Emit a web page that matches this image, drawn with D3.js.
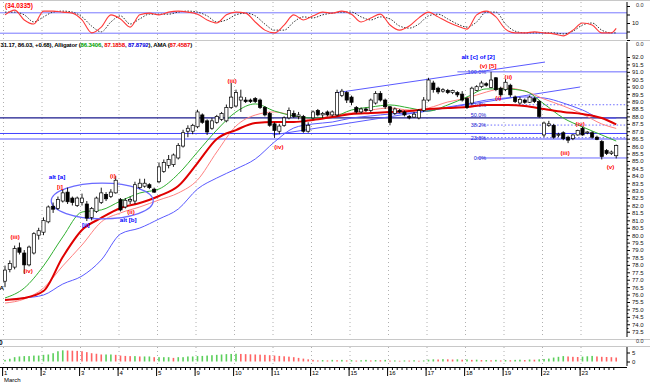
<!DOCTYPE html>
<html>
<head>
<meta charset="utf-8">
<script src="https://cdn.jsdelivr.net/npm/d3@7"></script>
<style>
  body { margin: 0; background: #fff; }
  svg { display: block; font-family: "Liberation Sans", Arial, sans-serif; }
</style>
</head>
<body>
<svg id="chart" width="650" height="382"></svg>
<script>
// Day labels under the x axis (8 hourly bars a day).
const days = ['1', '2', '3', '4', '5', '9', '10', '11', '12', '15', '16', '17', '18', '19', '22', '23']
const barsPerDay = 8

// Hourly candles [open, high, low, close].
const candles = [
	[76.9, 77.95, 76.5, 77.65], [77.7, 78.3, 77.5, 78.1], [77.85, 79.3, 77.7, 79.1], [79.15, 79.5, 78.7, 78.85],
	[78.8, 79.0, 77.4, 78.0], [78.0, 79.3, 77.9, 79.2], [78.8, 80.2, 78.7, 80.1], [80.0, 80.5, 79.7, 80.3],
	[80.2, 81.2, 80.0, 81.0], [80.9, 82.0, 80.8, 81.9], [81.95, 82.2, 81.5, 81.75], [81.8, 82.6, 81.7, 82.4],
	[82.3, 83.1, 82.2, 82.85], [82.9, 83.2, 82.1, 82.25], [82.5, 82.6, 82.0, 82.2], [82.0, 82.6, 81.9, 82.5],
	[82.2, 82.8, 82.0, 82.5], [82.1, 82.3, 80.95, 81.15], [81.2, 81.9, 81.0, 81.8], [81.6, 82.6, 81.5, 82.5],
	[82.2, 83.2, 82.1, 82.85], [82.75, 82.9, 82.3, 82.45], [82.6, 83.1, 82.5, 82.9], [82.85, 84.0, 82.8, 83.7],
	[82.4, 82.5, 81.6, 81.7], [81.9, 82.5, 81.8, 82.35], [82.3, 82.6, 82.1, 82.4], [82.3, 83.6, 82.1, 83.4],
	[83.2, 83.8, 83.1, 83.5], [83.3, 83.8, 83.2, 83.5], [83.4, 83.5, 83.1, 83.2], [83.1, 83.2, 82.85, 82.9],
	[83.6, 84.9, 83.5, 84.6], [84.3, 85.1, 84.2, 84.9], [84.7, 85.4, 84.5, 85.1], [84.75, 85.5, 84.6, 85.4],
	[85.2, 86.2, 85.1, 86.05], [86.0, 87.1, 85.9, 86.9], [87.0, 87.4, 86.6, 87.2], [87.0, 87.5, 86.8, 87.4],
	[87.3, 88.45, 87.2, 88.3], [88.1, 88.2, 87.5, 87.6], [87.7, 87.8, 86.75, 86.95], [87.2, 87.9, 87.1, 87.7],
	[87.6, 88.1, 87.5, 88.0], [87.8, 88.3, 87.7, 88.2], [87.7, 88.8, 87.6, 88.6], [88.6, 90.25, 88.5, 89.3],
	[88.7, 89.8, 88.6, 89.6], [89.1, 89.8, 88.3, 89.3], [89.1, 89.3, 88.9, 89.0], [89.1, 89.2, 88.9, 89.0],
	[89.2, 89.3, 88.9, 89.0], [89.1, 89.2, 88.5, 88.6], [88.6, 88.7, 88.0, 88.1], [88.2, 88.3, 87.3, 87.4],
	[87.5, 87.6, 86.55, 87.05], [87.0, 87.5, 86.8, 87.35], [87.4, 88.0, 87.3, 87.9], [87.9, 88.6, 87.8, 88.4],
	[88.2, 88.4, 87.9, 88.0], [88.0, 88.3, 87.8, 88.1], [88.0, 88.1, 86.9, 87.0], [87.0, 87.6, 86.9, 87.4],
	[87.9, 88.4, 87.8, 88.3], [88.4, 88.5, 88.0, 88.1], [88.1, 88.3, 87.9, 88.2], [88.3, 88.4, 88.0, 88.1],
	[88.1, 88.4, 88.0, 88.3], [88.1, 89.8, 88.0, 89.6], [89.4, 89.85, 89.3, 89.7], [89.6, 89.7, 88.9, 89.1],
	[89.3, 89.4, 88.75, 88.95], [88.6, 88.7, 88.2, 88.3], [88.3, 88.6, 88.2, 88.5], [88.5, 88.6, 88.3, 88.4],
	[88.4, 89.2, 88.3, 89.1], [88.9, 89.7, 88.8, 89.55], [89.55, 89.7, 89.0, 89.1], [89.1, 89.2, 88.5, 88.65],
	[88.65, 88.7, 87.4, 87.6], [88.2, 88.6, 88.1, 88.5], [88.4, 88.5, 88.2, 88.3], [88.3, 88.4, 88.0, 88.1],
	[88.0, 88.1, 87.8, 87.9], [87.95, 88.3, 87.9, 88.15], [87.9, 88.5, 87.8, 88.4], [88.4, 89.3, 88.3, 89.1],
	[89.1, 90.6, 89.0, 90.45], [90.25, 90.4, 89.6, 89.8], [89.9, 90.0, 89.5, 89.65], [89.7, 89.9, 89.6, 89.8],
	[89.75, 89.85, 89.5, 89.6], [89.6, 89.8, 89.5, 89.75], [89.6, 89.7, 89.3, 89.45], [89.5, 89.7, 89.0, 89.1],
	[89.2, 89.3, 88.5, 88.6], [88.9, 90.0, 88.8, 89.9], [89.75, 90.1, 89.7, 90.0], [90.0, 90.4, 89.9, 90.25],
	[90.2, 90.3, 90.0, 90.1], [89.95, 91.0, 89.9, 90.45], [90.6, 90.65, 89.7, 89.8], [89.9, 90.0, 89.3, 89.45],
	[89.8, 90.5, 89.7, 90.3], [90.1, 90.2, 89.3, 89.45], [89.3, 89.4, 88.9, 89.0], [88.9, 89.3, 88.8, 89.15],
	[89.1, 89.2, 88.85, 88.95], [88.95, 89.4, 88.9, 89.3], [89.2, 89.3, 88.9, 89.0], [89.0, 89.1, 87.9, 88.0],
	[86.75, 87.65, 86.6, 87.55], [87.4, 87.7, 87.3, 87.5], [87.4, 87.5, 86.5, 86.6], [86.75, 86.9, 86.6, 86.8],
	[86.9, 87.0, 86.4, 86.5], [86.6, 86.7, 86.2, 86.4], [86.5, 86.8, 86.4, 86.75], [86.75, 87.1, 86.7, 87.05],
	[87.2, 87.3, 86.7, 86.75], [86.9, 87.0, 86.8, 86.95], [86.9, 87.0, 86.5, 86.6], [86.6, 86.7, 86.4, 86.45],
	[86.3, 86.4, 85.1, 85.3], [85.7, 85.8, 85.4, 85.5], [85.5, 85.7, 85.4, 85.6], [85.35, 86.1, 85.17, 86.03],
]

// Alligator + AMA, sampled every 4 bars.
const lineIdx = [0, 4, 8, 12, 16, 20, 24, 28, 32, 36, 40, 44, 48, 52, 56, 60, 64, 68, 72, 76, 80, 84, 88, 92, 96, 100, 104, 108, 112, 116, 120, 124, 127]
const lips = [75.77, 76.44, 77.93, 79.88, 81.56, 81.7, 82.3, 82.84, 83.11, 84.12, 85.6, 87.08, 88.3, 88.84, 88.36, 88.03, 87.89, 87.96, 88.43, 88.63, 88.77, 88.57, 88.36, 88.77, 89.31, 89.85, 89.85, 89.71, 88.84, 87.89, 87.29, 86.75, 86.34]
const teeth = [75.43, 75.7, 76.44, 77.93, 79.34, 80.89, 81.5, 81.9, 82.37, 82.84, 83.72, 85.6, 87.35, 88.09, 88.3, 88.03, 87.76, 88.09, 88.23, 88.43, 88.57, 88.43, 88.57, 88.97, 89.24, 89.64, 89.91, 89.71, 89.17, 88.7, 88.16, 87.49, 87.19]
const jaw = [75.64, 75.77, 75.97, 76.71, 77.25, 78.33, 80.08, 80.48, 81.09, 81.76, 83.11, 83.85, 84.46, 85.13, 86.28, 87.22, 87.49, 87.62, 87.89, 88.03, 88.16, 88.23, 88.36, 88.63, 88.84, 89.1, 89.24, 89.31, 89.24, 88.9, 88.43, 87.89, 87.88]
const ama = [75.64, 75.77, 76.24, 78.53, 80.35, 81.16, 81.83, 82.17, 82.64, 83.31, 84.86, 86.48, 87.08, 87.56, 87.62, 87.62, 87.76, 87.96, 88.16, 88.23, 88.3, 88.36, 88.5, 88.57, 88.63, 88.77, 88.77, 88.7, 88.5, 88.3, 88.16, 87.89, 87.46]

// Oscillator (top pane), sampled every 2 bars.
const oscIdx = [0, 2, 4, 6, 8, 10, 12, 14, 16, 18, 20, 22, 24, 26, 28, 30, 32, 34, 36, 38, 40, 42, 44, 46, 48, 50, 52, 54, 56, 58, 60, 62, 64, 66, 68, 70, 72, 74, 76, 78, 80, 82, 84, 86, 88, 90, 92, 94, 96, 98, 100, 102, 104, 106, 108, 110, 112, 114, 116, 118, 120, 122, 124, 126, 127]
const oscK = [74, 88, 59, 47, 85, 85, 82, 79, 59, 21, 38, 74, 62, 38, 74, 79, 74, 82, 85, 82, 76, 59, 50, 74, 82, 79, 53, 29, 21, 44, 74, 59, 71, 82, 79, 85, 76, 53, 65, 76, 44, 29, 41, 65, 82, 68, 53, 41, 32, 74, 85, 68, 32, 21, 21, 24, 21, 18, 12, 29, 50, 44, 21, 21, 34]
const oscD = [82, 82, 74, 53, 68, 82, 85, 82, 68, 41, 24, 53, 71, 47, 62, 76, 76, 76, 82, 85, 82, 71, 53, 59, 74, 79, 71, 47, 29, 29, 53, 68, 65, 74, 79, 82, 82, 68, 59, 68, 62, 41, 35, 47, 71, 76, 62, 47, 38, 53, 82, 82, 47, 26, 21, 21, 21, 21, 18, 26, 44, 50, 29, 21, 21]

// Bottom pane histogram.
const hist = [
	0.9, 1.5, 2.4, 2.8, 3.0, 3.0, 3.3, 3.3, 3.7, 3.9, 4.6, 5.7, 6.2, 6.1, 6.0, 5.9, 5.7, 5.2, 4.6, 4.3,
	3.9, 3.9, 3.9, 3.7, 3.3, 3.1, 3.0, 3.0, 2.8, 2.8, 2.8, 2.4, 2.4, 2.4, 2.4, 2.0, 2.4, 2.4, 2.8, 2.8,
	3.0, 3.1, 3.3, 3.5, 3.7, 3.9, 4.1, 4.2, 4.3, 4.2, 4.1, 4.0, 3.9, 3.8, 3.7, 3.5, 3.3, 3.1, 2.9, 2.7,
	2.4, 2.0, 1.6, 1.2, 0.9, 0.6, 0.8, 0.6, 0.9, 0.7, 0.9, 0.6, 0.8, 0.5, 0.7, 0.9, 0.6, 0.8, 0.7, 0.9,
	0.5, 0.6, 0.4, 0.6, 0.5, 0.7, 0.4, 0.6, 1.0, 1.2, 1.1, 1.3, 1.2, 1.1, 1.2, 1.0, 1.1, 0.9, 1.0, 0.8,
	0.8, 0.7, 0.9, 0.6, 0.8, 0.7, 0.9, 1.0, 0.8, 1.1, 1.0, 1.2, 1.4, 1.6, 2.2, 2.6, 3.0, 2.8, 2.6, 2.5,
	2.7, 2.9, 3.1, 2.8, 2.6, 2.5, 2.4, 2.2,
]

// Horizontal levels across the whole pane.
const levels = [[87.9, '#1a1a8c', 1.4], [86.85, '#4040ff', 1], [86.48, '#a8a8ff', 2]]
// Fibonacci retracement of the last swing.
const fibHigh = 91.0, fibLow = 85.2
const fibRatios = [1, 0.618, 0.5, 0.382, 0.236, 0]
const fibNames = ['100.0%', '61.8%', '50.0%', '38.2%', '23.6%', '0.0%']
// Channel lines [[bar, price], [bar, price]].
const channels = [[[68.6, 89.58], [112.2, 91.66]], [[55.7, 86.75], [119.5, 89.98]]]
// Wave count labels [text, bar, price, colour].
const waves = [
	['(iii)', 2.1, 79.9, 'red'], ['(iv)', 4.8, 77.6, 'red'], ['A', -0.7, 76.5, '#000'],
	['alt [a]', 10.8, 83.95, 'blue'], ['[i]', 11.4, 83.3, 'red'], ['[ii]', 16.8, 80.7, 'blue'],
	['(i)', 22.4, 84.05, 'red'], ['(ii)', 26.2, 81.6, 'red'], ['alt [b]', 25.6, 81.05, 'blue'],
	['(iii)', 47.2, 90.45, 'red'], ['(iv)', 56.9, 86.0, 'red'], ['alt [c] of [2]', 98.3, 92.05, 'blue'],
	['(v) [5]', 100.4, 91.4, 'red'], ['(ii)', 104.6, 90.7, 'red'], ['(i)', 102.5, 89.3, 'red'],
	['(iii)', 116.4, 85.6, 'red'], ['(iv)', 119.5, 87.55, 'red'], ['(v)', 125.8, 84.65, 'red'],
]

const svg = d3.select('#chart')
const axisX = 627

const x = d3.scaleLinear().domain([0, candles.length - 1]).range([5, 616.2])
const yM = d3.scaleLinear().domain([73.5, 92]).range([331.7, 57])
const yO = d3.scaleLinear().domain([0, 100]).range([40, 6])
const yH = d3.scaleLinear().domain([0, 5]).range([361.5, 352.5])
const dayStarts = days.map((d, i) => i * barsPerDay)

svg.append('rect').attr('width', 650).attr('height', 382).attr('fill', '#fff')

// pane separators
;[0.5, 40.5, 339.5, 346.5].forEach(y => {
	svg.append('line').attr('x1', 0).attr('x2', 650).attr('y1', y).attr('y2', y)
		.attr('stroke', '#c8c8c8')
})

// day grid
const grid = svg.append('g').attr('stroke', '#b0b0b0').attr('stroke-dasharray', '1,3')
;[[2, 39], [42, 336], [347, 366]].forEach(([a, b]) => {
	grid.selectAll(null).data(dayStarts).join('line')
		.attr('x1', d => x(d) - 1.5).attr('x2', d => x(d) - 1.5)
		.attr('y1', a).attr('y2', b)
})

// ---- oscillator pane ----
const osc = svg.append('g')
;[80, 20].forEach(v => {
	osc.append('line').attr('x1', 0).attr('x2', axisX).attr('y1', yO(v)).attr('y2', yO(v))
		.attr('stroke', '#7878ff')
})
const oLine = d3.line().x(d => x(d[0])).y(d => yO(d[1])).curve(d3.curveMonotoneX)
osc.append('path').attr('d', oLine(d3.zip(oscIdx, oscD)))
	.attr('fill', 'none').attr('stroke', '#333').attr('stroke-dasharray', '1.5,1.5')
osc.append('path').attr('d', oLine(d3.zip(oscIdx, oscK)))
	.attr('fill', 'none').attr('stroke', '#ff3a3a').attr('stroke-width', 1.1)
osc.append('text').attr('x', 5).attr('y', 8).attr('fill', 'red')
	.attr('font-size', 6.5).attr('font-weight', 'bold').text('(34.0335)')
osc.append('g').attr('transform', `translate(${axisX},0)`)
	.call(d3.axisRight(yO).tickValues([0, 25, 50, 75, 100]).tickSize(3).tickFormat(d => d === 50 ? '10' : ''))
	.call(g => g.select('.domain').attr('d', 'M0,2V39'))

// ---- main pane ----
const main = svg.append('g')
main.append('text').attr('x', 0.5).attr('y', 47).attr('font-size', 6).attr('font-weight', 'bold')
	.attr('letter-spacing', -0.15)
	.call(t => {
		[['31.17, 86.03, +0.68), Alligator (', '#000'], ['86.3406', '#00a000'], [', ', '#000'],
			['87.1858', '#f00000'], [', ', '#000'], ['87.8792', '#0000e0'], ['), AMA (', '#000'],
			['87.4587', '#f00000'], [')', '#000']]
			.forEach(([s, c]) => t.append('tspan').attr('fill', c).text(s))
	})

levels.forEach(([p, c, w]) => {
	main.append('line').attr('x1', 0).attr('x2', axisX).attr('y1', yM(p)).attr('y2', yM(p))
		.attr('stroke', c).attr('stroke-width', w)
})

const fib = main.append('g')
fibRatios.forEach((r, k) => {
	const p = fibLow + (fibHigh - fibLow) * r
	const dotted = r !== 1 && r !== 0 && r !== 0.5
	fib.append('line').attr('x1', x(r === 1 ? 94 : 98)).attr('x2', axisX)
		.attr('y1', yM(p)).attr('y2', yM(p))
		.attr('stroke', r === 0.5 ? 'none' : '#6a6aff').attr('stroke-width', 1)
		.attr('stroke-dasharray', dotted ? '1.5,2' : null)
	fib.append('text').attr('x', x(100)).attr('y', yM(p) + 2).attr('text-anchor', 'end')
		.attr('font-size', 5.5).attr('fill', '#2020d0').text(fibNames[k])
})

channels.forEach(c => {
	main.append('line').attr('x1', x(c[0][0])).attr('y1', yM(c[0][1]))
		.attr('x2', x(c[1][0])).attr('y2', yM(c[1][1]))
		.attr('stroke', '#5a5aff').attr('stroke-width', 1)
})

const mLine = d3.line().x(d => x(d[0])).y(d => yM(d[1])).curve(d3.curveMonotoneX)
;[[jaw, '#5a5aff', 1], [teeth, '#ff8080', 1], [lips, '#30b030', 1], [ama, '#e00000', 2]].forEach(([s, c, w]) => {
	main.append('path').attr('d', mLine(d3.zip(lineIdx, s)))
		.attr('fill', 'none').attr('stroke', c).attr('stroke-width', w)
})

// ellipse around the [a]-[b] area
main.append('ellipse').attr('cx', x(20.2)).attr('cy', yM(82.3))
	.attr('rx', x(10.6) - x(0)).attr('ry', yM(81.1) - yM(82.3))
	.attr('fill', 'none').attr('stroke', '#6a6aff').attr('stroke-width', 1.2)

const cg = main.append('g')
cg.selectAll('line').data(candles).join('line')
	.attr('x1', (d, i) => x(i)).attr('x2', (d, i) => x(i))
	.attr('y1', d => yM(d[1])).attr('y2', d => yM(d[2]))
	.attr('stroke', '#000').attr('stroke-width', 0.9)
cg.selectAll('rect').data(candles).join('rect')
	.attr('x', (d, i) => x(i) - 1.6).attr('width', 3.2)
	.attr('y', d => yM(Math.max(d[0], d[3])))
	.attr('height', d => Math.max(1, Math.abs(yM(d[0]) - yM(d[3]))))
	.attr('fill', d => d[3] >= d[0] ? '#fff' : '#000')
	.attr('stroke', '#000').attr('stroke-width', 0.7)

main.selectAll('text.wave').data(waves).join('text').attr('class', 'wave')
	.attr('x', d => x(d[1])).attr('y', d => yM(d[2]) + 2.5)
	.attr('text-anchor', 'middle').attr('font-size', 6.2).attr('font-weight', 'bold')
	.attr('fill', d => d[3]).text(d => d[0])

main.append('g').attr('transform', `translate(${axisX},0)`)
	.call(d3.axisRight(yM).tickValues(d3.range(73.5, 92.01, 0.5)).tickSize(3).tickFormat(d3.format('.1f')))
	.call(g => g.select('.domain').attr('d', 'M0,42V337'))
main.append('g').attr('transform', `translate(${axisX},0)`)
	.call(d3.axisRight(yM).tickValues(d3.range(73.75, 92, 0.5)).tickSize(1.5).tickFormat(''))
	.call(g => g.select('.domain').remove())

// ---- histogram pane ----
const hg = svg.append('g')
hg.selectAll('rect').data(hist).join('rect')
	.attr('x', (d, i) => x(i) - 0.8).attr('width', 1.6)
	.attr('y', d => yH(d)).attr('height', d => yH(0) - yH(d))
	.attr('fill', (d, i) => i === 0 || d >= hist[i - 1] ? '#5ccf5c' : '#ff6464')
hg.append('text').attr('x', -1).attr('y', 345).attr('font-size', 6.5).attr('font-weight', 'bold').text('0')
hg.append('g').attr('transform', `translate(${axisX},0)`)
	.call(d3.axisRight(yH).tickValues([0, 5]).tickSize(3).tickFormat(d3.format('d')))
	.call(g => g.select('.domain').attr('d', 'M0,347V366'))
;[7, 46, 343].forEach(y => {
	svg.append('text').attr('x', 636).attr('y', y).attr('font-size', 5.5).attr('fill', '#333').text('0.0')
})

// ---- time axis ----
const xa = svg.append('g')
xa.append('line').attr('x1', 0).attr('x2', axisX).attr('y1', 367.5).attr('y2', 367.5).attr('stroke', '#000')
xa.selectAll('line.minor').data(candles).join('line').attr('class', 'minor')
	.attr('x1', (d, i) => x(i) - 2.4).attr('x2', (d, i) => x(i) - 2.4)
	.attr('y1', 367.5).attr('y2', 370).attr('stroke', '#000')
xa.selectAll('line.major').data(dayStarts).join('line').attr('class', 'major')
	.attr('x1', d => x(d) - 2.4).attr('x2', d => x(d) - 2.4)
	.attr('y1', 367.5).attr('y2', 376).attr('stroke', '#000')
xa.selectAll('text.day').data(days).join('text').attr('class', 'day')
	.attr('x', (d, i) => x(dayStarts[i]) - 1).attr('y', 375)
	.attr('font-size', 6).text(d => d)
xa.append('text').attr('x', 4).attr('y', 381.5).attr('font-size', 6).text('March')

svg.selectAll('.tick text').attr('font-size', 6).attr('font-family', '"Liberation Sans", Arial, sans-serif')
	.attr('fill', '#111').attr('x', 5)
svg.selectAll('.tick line').attr('stroke', '#000')
</script>
</body>
</html>
